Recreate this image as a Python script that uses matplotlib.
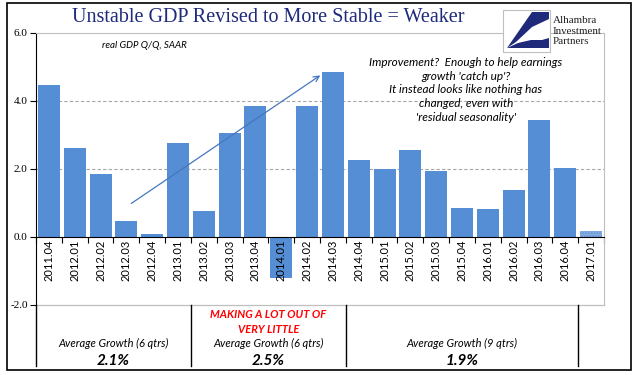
import matplotlib
matplotlib.use('Agg')
import matplotlib.pyplot as plt
import numpy as np
from matplotlib.patches import Rectangle, Polygon

quarters = ['2011.04', '2012.01', '2012.02', '2012.03', '2012.04', '2013.01',
            '2013.02', '2013.03', '2013.04', '2014.01', '2014.02', '2014.03',
            '2014.04', '2015.01', '2015.02', '2015.03', '2015.04', '2016.01',
            '2016.02', '2016.03', '2016.04', '2017.01']
gdp = [4.47, 2.62, 1.85, 0.47, 0.09, 2.76, 0.77, 3.06, 3.85, -1.2, 3.85, 4.85,
       2.26, 2.0, 2.56, 1.94, 0.85, 0.82, 1.38, 3.44, 2.03, 0.18]
group_edges = [-0.5, 5.5, 11.5, 20.5]
group_avgs = ['2.1%', '2.5%', '1.9%']
group_labels = ['Average Growth (6 qtrs)', 'Average Growth (6 qtrs)', 'Average Growth (9 qtrs)']

W, H = 641, 375
fig = plt.figure(figsize=(W / 100, H / 100), dpi=100)
ax = fig.add_axes([36 / W, 1 - 305 / H, 568 / W, 272 / H])

def px(x, y):
    return x / W, 1 - y / H

blue = '#558ED5'
x = np.arange(len(quarters))
ax.bar(x[:-1], gdp[:-1], width=0.85, color=blue, zorder=2)
ax.bar(x[-1:], gdp[-1:], width=0.85, color='#8FB1E2', hatch='......',
       edgecolor=blue, linewidth=0, zorder=2)

ax.set_xlim(-0.5, len(quarters) - 0.5)
ax.set_ylim(-2, 6)

# grid
for g in [2, 4]:
    ax.axhline(g, color='#A6A6A6', lw=0.8, ls=(0, (3, 2)), zorder=1)
ax.axhline(-2, color='#BFBFBF', lw=0.9, clip_on=False, zorder=1)

ax.spines['bottom'].set_position(('data', 0))
ax.spines['bottom'].set_color('black')
ax.spines['bottom'].set_zorder(3)
ax.spines['left'].set_color('black')
for s in ['top', 'right']:
    ax.spines[s].set_color('#BFBFBF')

ax.set_yticks([-2, 0, 2, 4, 6])
ax.set_yticklabels(['-2.0', '0.0', '2.0', '4.0', '6.0'],
                   fontfamily='Liberation Serif', fontsize=8)
ax.tick_params(axis='y', length=4, width=0.8, pad=2)

ax.set_xticks(x)
ax.set_xticklabels([])
ax.set_xticks(np.arange(len(quarters) + 1) - 0.5, minor=True)
ax.tick_params(axis='x', which='major', length=0)
ax.tick_params(axis='x', which='minor', length=4, width=0.8, direction='out')
for i, q in enumerate(quarters):
    ax.text(i, -0.08, q, rotation=90, ha='center', va='top', fontsize=8,
            fontfamily='Lato', zorder=4)

# trend arrow
ax.annotate('', xy=(10.6, 4.8), xytext=(3.1, 0.94),
            arrowprops=dict(arrowstyle='->', color='#4677BD', lw=0.9,
                            mutation_scale=10), zorder=5)

# group lines below the chart
for e in group_edges:
    ax.plot([e, e], [-2, -3.78], color='black', lw=1, clip_on=False)
for k in range(3):
    cx = (group_edges[k] + group_edges[k + 1]) / 2
    ax.text(cx, -3.12, group_labels[k], ha='center', va='center', fontsize=8,
            style='italic', fontfamily='Lato')
    ax.text(cx, -3.66, group_avgs[k], ha='center', va='center', fontsize=11,
            style='italic', weight='bold', fontfamily='Lato')
ax.text(8.5, -2.5, 'MAKING A LOT OUT OF\nVERY LITTLE', ha='center', va='center',
        fontsize=8, style='italic', weight='bold', color='red',
        fontfamily='Lato', linespacing=1.45)

# notes
fig.text(*px(102, 45), 'real GDP Q/Q, SAAR', ha='left', va='center', fontsize=7,
         style='italic', fontfamily='Lato')
fig.text(*px(466, 57), "Improvement?  Enough to help earnings\ngrowth 'catch up'?\n"
         "It instead looks like nothing has\nchanged, even with\n'residual seasonality'",
         ha='center', va='top', fontsize=8.5, style='italic', fontfamily='Lato',
         linespacing=1.3)

# title
fig.text(*px(268, 18), 'Unstable GDP Revised to More Stable = Weaker', ha='center',
         va='center', fontsize=14.5, fontfamily='Liberation Serif', color='#1F2A7A')

# logo
fig.patches.append(Rectangle(px(503, 52), 47 / W, 42 / H, transform=fig.transFigure,
                             facecolor='white', edgecolor='#BFBFBF', lw=0.8, zorder=10))
fig.patches.append(Polygon([px(507, 48), px(532, 12), px(549, 12), px(549, 19),
                            px(532, 27), px(516, 42)],
                           closed=True, transform=fig.transFigure, facecolor='#1F2A7A',
                           edgecolor='none', zorder=11))
fig.patches.append(Polygon([px(507, 48), px(518, 43), px(531, 40), px(542, 40),
                            px(549, 38), px(549, 48)],
                           closed=True, transform=fig.transFigure, facecolor='#1F2A7A',
                           edgecolor='none', zorder=11))
fig.text(*px(553, 31), 'Alhambra\nInvestment\nPartners', ha='left', va='center',
         fontsize=7.9, fontfamily='Liberation Serif', color='#222222', linespacing=1.15,
         zorder=12)

# outer frame
fig.patches.append(Rectangle(px(7, 370), 624 / W, 367 / H, transform=fig.transFigure,
                             facecolor='none', edgecolor='black', lw=1.2, zorder=20))

fig.savefig('out.png', dpi=100)
